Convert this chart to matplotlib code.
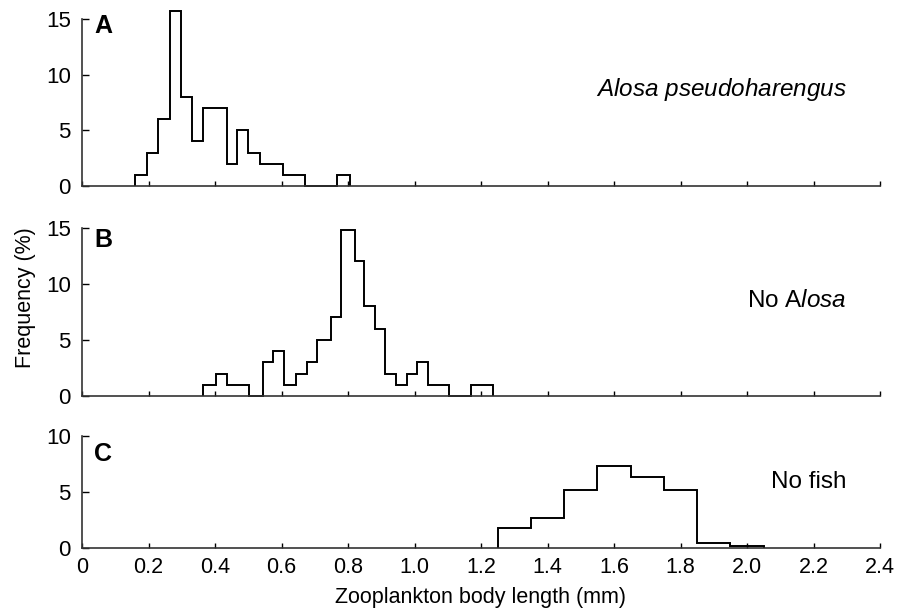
import matplotlib
matplotlib.use("Agg")
import matplotlib.pyplot as plt
import numpy as np

plt.rcParams["font.family"] = ["Liberation Sans", "DejaVu Sans"]
plt.rcParams["mathtext.fontset"] = "custom"
plt.rcParams["mathtext.rm"] = "Liberation Sans"
plt.rcParams["mathtext.it"] = "Liberation Sans:italic"

# panel A: Alosa pseudoharengus
edges_a = [0.16, 0.195, 0.23, 0.265, 0.298, 0.33, 0.365, 0.40, 0.435, 0.465,
           0.50, 0.535, 0.57, 0.604, 0.637, 0.671, 0.768, 0.806]
freq_a = [1, 3, 6, 15.7, 8, 4, 7, 7, 2, 5, 3, 2, 2, 1, 1, 0, 1]

# panel B: no Alosa
edges_b = [0.365, 0.402, 0.435, 0.503, 0.543, 0.573, 0.607, 0.643, 0.678,
           0.708, 0.748, 0.780, 0.820, 0.849, 0.882, 0.911, 0.944, 0.978,
           1.007, 1.042, 1.103, 1.170, 1.235]
freq_b = [1, 2, 1, 0, 3, 4, 1, 2, 3, 5, 7, 14.8, 12, 8, 6, 2, 1, 2, 3, 1, 0, 1]

# panel C: no fish
edges_c = [1.25, 1.35, 1.45, 1.55, 1.65, 1.75, 1.85, 1.95, 2.05]
freq_c = [1.8, 2.7, 5.2, 7.3, 6.3, 5.2, 0.4, 0.15]

xticks = [0, 0.2, 0.4, 0.6, 0.8, 1.0, 1.2, 1.4, 1.6, 1.8, 2.0, 2.2, 2.4]
xticklabels = ["0" if v == 0 else f"{v:.1f}" for v in xticks]

W, H = 901, 611
fig = plt.figure(figsize=(W / 100, H / 100), dpi=100)


def px_axes(left, right, top, bottom):
    return fig.add_axes([left / W, 1 - bottom / H, (right - left) / W, (bottom - top) / H])


panels = [
    (px_axes(82, 880, 19, 186), edges_a, freq_a, 15, [0, 5, 10, 15], "A", 1.03,
     r"$\mathit{Alosa\ pseudoharengus}$", 0.575),
    (px_axes(82, 880, 227.7, 396), edges_b, freq_b, 15, [0, 5, 10, 15], "B", 1.0,
     r"No A$\mathit{losa}$", 0.564),
    (px_axes(82, 880, 436, 547.7), edges_c, freq_c, 10, [0, 5, 10], "C", 0.95,
     "No fish", 0.588),
]

for i, (ax, edges, freq, ymax, yticks, letter, ly, label, ty) in enumerate(panels):
    ax.stairs(freq, edges, baseline=0, color="black", linewidth=1.4, clip_on=False)
    ax.set_xlim(0, 2.4)
    ax.set_ylim(0, ymax)
    ax.set_yticks(yticks)
    ax.set_xticks(xticks)
    for s in ["top", "right"]:
        ax.spines[s].set_visible(False)
    for s in ["left", "bottom"]:
        ax.spines[s].set_color("#333333")
        ax.spines[s].set_linewidth(1.2)
    ax.tick_params(axis="y", direction="in", length=5, width=1, pad=8, labelsize=16)
    ax.tick_params(axis="x", direction="in", length=3.5, width=1, pad=7, labelsize=15.5)
    if i < 2:
        ax.set_xticklabels([])
    else:
        ax.set_xticklabels(xticklabels)
    ax.text(0.015, ly, letter, transform=ax.transAxes, fontsize=18,
            fontweight="bold", va="top", ha="left")
    ax.text(0.958, ty, label, transform=ax.transAxes, fontsize=17.5,
            va="center", ha="right")

fig.text(25 / W, 1 - 298 / H, "Frequency (%)", rotation=90, fontsize=15.5,
         ha="center", va="center")
fig.text(481 / W, 1 - 597 / H, "Zooplankton body length (mm)", fontsize=15.5,
         ha="center", va="center")

fig.savefig("out.png", dpi=100)
